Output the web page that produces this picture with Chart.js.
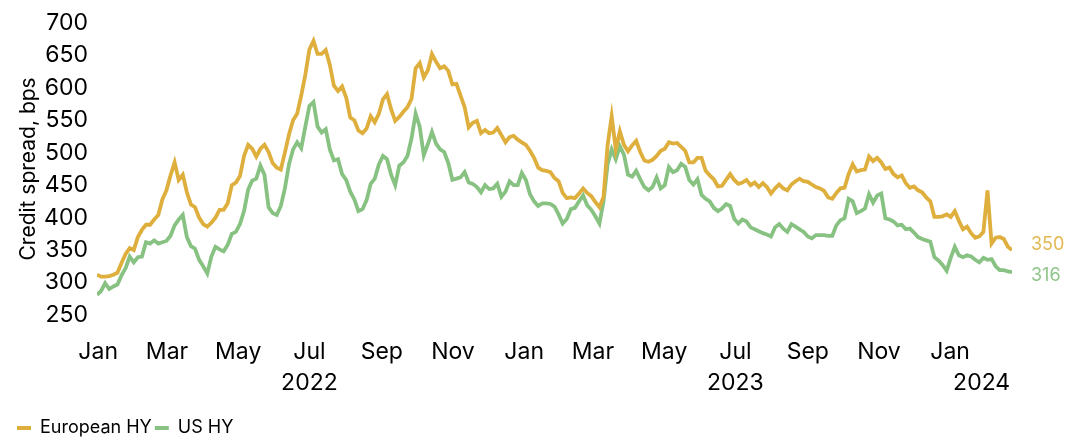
<!DOCTYPE html>
<html>
<head>
<meta charset="utf-8">
<script src="https://cdn.jsdelivr.net/npm/chart.js@4.4.1/dist/chart.umd.min.js"></script>
<style>
  html, body { margin: 0; padding: 0; background: #fff; }
  #wrap { width: 1089px; height: 443px; position: relative; }
</style>
</head>
<body>
<div id="wrap"><canvas id="spreadChart"></canvas></div>
<script>
// HY credit spreads (bps), twice-weekly from 31 Dec 2021
const europeanHY = [
  312, 309, 309, 310, 312, 315, 330, 344, 353, 350,
  370, 381, 389, 389, 397, 404, 428, 442, 465, 485,
  458, 466, 439, 420, 416, 400, 390, 386, 392, 400,
  412, 412, 422, 450, 454, 464, 495, 512, 506, 494,
  506, 512, 501, 484, 477, 474, 500, 528, 550, 560,
  588, 620, 659, 672, 652, 652, 658, 635, 603, 595,
  602, 585, 554, 550, 534, 530, 537, 556, 547, 560,
  582, 590, 567, 549, 555, 563, 570, 583, 630, 638,
  616, 627, 652, 640, 630, 633, 626, 605, 606, 588,
  570, 539, 546, 549, 530, 535, 530, 531, 538, 527,
  516, 524, 526, 520, 516, 512, 503, 492, 477, 473,
  472, 470, 461, 456, 438, 430, 431, 430, 437, 445,
  438, 433, 424, 416, 432, 512, 556, 505, 533, 512,
  502, 511, 518, 501, 488, 486, 489, 495, 503, 506,
  516, 514, 515, 509, 503, 485, 485, 492, 492, 472,
  465, 459, 448, 449, 458, 467, 458, 452, 454, 458,
  450, 454, 447, 453, 447, 437, 445, 451, 445, 442,
  451, 456, 460, 456, 455, 451, 447, 445, 441, 431,
  429, 438, 445, 446, 467, 482, 471, 473, 474, 494,
  487, 492, 485, 475, 477, 467, 462, 465, 453, 446,
  448, 442, 439, 431, 425, 401, 401, 402, 405, 401,
  410, 395, 382, 386, 376, 369, 371, 378, 442, 360,
  369, 370, 367, 355, 350
];
const usHY = [
  281, 287, 299, 290, 294, 297, 311, 322, 340, 331,
  339, 340, 362, 360, 365, 360, 362, 364, 372, 388,
  397, 404, 370, 356, 352, 335, 325, 314, 340, 355,
  351, 348, 358, 375, 378, 390, 410, 443, 457, 460,
  480, 466, 416, 407, 404, 418, 445, 482, 505, 516,
  507, 540, 572, 578, 540, 531, 536, 505, 488, 490,
  467, 458, 440, 428, 410, 413, 427, 452, 460, 482,
  495, 490, 466, 450, 480, 485, 495, 522, 560, 540,
  496, 513, 532, 514, 505, 501, 484, 458, 460, 462,
  470, 454, 452, 447, 439, 450, 444, 445, 452, 432,
  440, 456, 450, 450, 469, 458, 436, 425, 418, 422,
  422, 421, 417, 405, 391, 398, 413, 415, 425, 434,
  419, 412, 402, 391, 425, 482, 505, 490, 510, 497,
  466, 463, 472, 459, 447, 442, 447, 462, 445, 450,
  478, 470, 473, 483, 478, 458, 451, 459, 435, 429,
  425, 415, 410, 414, 421, 418, 398, 391, 397, 394,
  385, 382, 379, 376, 374, 371, 385, 390, 383, 378,
  390, 386, 382, 378, 371, 368, 373, 373, 373, 372,
  372, 388, 396, 399, 429, 425, 407, 410, 414, 436,
  423, 434, 437, 399, 397, 394, 388, 389, 382, 383,
  377, 370, 367, 365, 363, 339, 334, 327, 318, 338,
  355, 342, 339, 342, 340, 335, 331, 338, 335, 336,
  325, 319, 319, 317, 316
];
const seriesNames = ['European HY', 'US HY'];
const lineColors = ['#DFAF3E', '#88C282'];
const labelColors = ['#E2B853', '#8FC58A'];
const monthNames = ['Jan', 'Feb', 'Mar', 'Apr', 'May', 'Jun', 'Jul', 'Aug', 'Sep', 'Oct', 'Nov', 'Dec'];
const yTicks = { min: 250, max: 700, step: 50 };

const DAY = 86400000;
const origin = Date.UTC(2022, 0, 1);
const dayOf = (y, m, d) => (Date.UTC(y, m, d) - origin) / DAY;

// x values are days since 1 Jan 2022, two observations per week
const obsDays = europeanHY.map((_, i) => -1 + 3.5 * i);
// tick every second month, Jan 2022 .. Jan 2024
const tickDays = [];
for (let m = 0; m <= 24; m += 2) tickDays.push(dayOf(2022, m, 1));

const yearLabels = [
  { text: '2022', day: dayOf(2022, 6, 1) },
  { text: '2023', day: dayOf(2023, 6, 1) },
  { text: '2024', day: dayOf(2024, 0, 28) }
];

const toPoints = vals => vals.map((v, i) => ({ x: obsDays[i], y: v }));

const FONT = 'Inter, "DejaVu Sans", sans-serif';

const yearPlugin = {
  id: 'yearRow',
  afterDraw(chart) {
    const ctx = chart.ctx;
    const xs = chart.scales.x;
    ctx.save();
    ctx.font = '23px ' + FONT;
    ctx.fillStyle = '#000';
    ctx.textAlign = 'center';
    ctx.textBaseline = 'middle';
    yearLabels.forEach(y => ctx.fillText(y.text, xs.getPixelForValue(y.day), 383));
    ctx.restore();
  }
};

const endLabelPlugin = {
  id: 'endLabels',
  afterDatasetsDraw(chart) {
    const ctx = chart.ctx;
    const shifts = [-5, 3];
    ctx.save();
    ctx.font = '18px ' + FONT;
    ctx.textAlign = 'left';
    ctx.textBaseline = 'middle';
    chart.data.datasets.forEach((ds, i) => {
      const pts = chart.getDatasetMeta(i).data;
      const last = pts[pts.length - 1];
      ctx.fillStyle = labelColors[i];
      ctx.fillText(String(ds.data[ds.data.length - 1].y), last.x + 19, last.y + shifts[i]);
    });
    ctx.restore();
  }
};

const ctx = document.getElementById('spreadChart').getContext('2d');
new Chart(ctx, {
  type: 'line',
  data: {
    datasets: [
      {
        label: seriesNames[0],
        data: toPoints(europeanHY),
        borderColor: lineColors[0],
        backgroundColor: lineColors[0],
        borderWidth: 3.8,
        pointRadius: 0,
        tension: 0
      },
      {
        label: seriesNames[1],
        data: toPoints(usHY),
        borderColor: lineColors[1],
        backgroundColor: lineColors[1],
        borderWidth: 3.8,
        pointRadius: 0,
        tension: 0
      }
    ]
  },
  options: {
    responsive: true,
    maintainAspectRatio: false,
    animation: false,
    devicePixelRatio: 1,
    layout: { padding: { left: 14, right: 77, top: 22, bottom: -4 } },
    scales: {
      x: {
        type: 'linear',
        min: -1,
        max: 783,
        grid: { display: false, drawTicks: false },
        border: { display: false },
        afterBuildTicks: s => { s.ticks = tickDays.map(v => ({ value: v })); },
        afterFit: s => { s.height = 101; },
        ticks: {
          autoSkip: false,
          maxRotation: 0,
          padding: 23,
          color: '#000',
          font: { family: FONT, size: 23 },
          callback: v => monthNames[new Date(origin + v * DAY).getUTCMonth()]
        }
      },
      y: {
        min: yTicks.min,
        max: yTicks.max,
        grid: { display: false, drawTicks: false },
        border: { display: false },
        afterFit: s => { s.width = 83; },
        ticks: {
          stepSize: yTicks.step,
          padding: 9,
          color: '#000',
          font: { family: FONT, size: 23 }
        },
        title: {
          display: true,
          text: 'Credit spread, bps',
          color: '#000',
          font: { family: FONT, size: 21 },
          padding: { top: 2, bottom: 0 }
        }
      }
    },
    plugins: {
      tooltip: { enabled: false },
      legend: {
        position: 'bottom',
        align: 'start',
        labels: {
          boxWidth: 14,
          boxHeight: 4,
          padding: 3,
          color: '#000',
          font: { family: FONT, size: 18 },
          generateLabels: chart => Chart.defaults.plugins.legend.labels.generateLabels(chart)
            .map(item => Object.assign(item, { lineWidth: 0 }))
        }
      }
    }
  },
  plugins: [yearPlugin, endLabelPlugin]
});
</script>
</body>
</html>
